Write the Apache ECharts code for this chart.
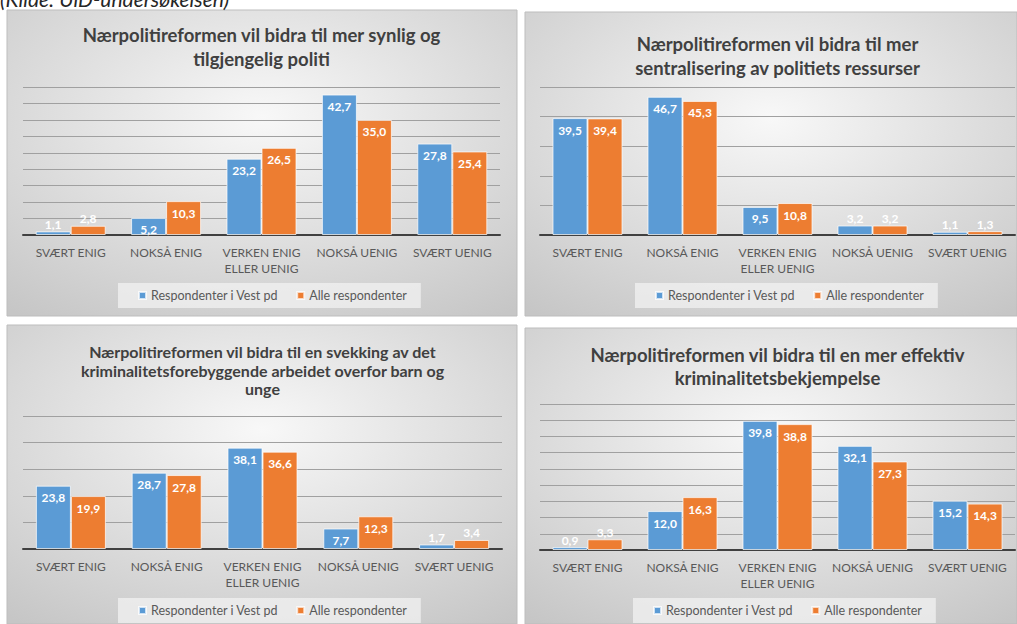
<!DOCTYPE html>
<html>
<head>
<meta charset="utf-8">
<script src="https://cdn.jsdelivr.net/npm/echarts@6.0.0/dist/echarts.min.js"></script>
<style>
html, body { margin: 0; padding: 0; background: #fff; }
#chart { width: 1017px; height: 624px; }
</style>
</head>
<body>
<div id="chart"></div>
<script>
// data
const caption = '(Kilde: UiD-undersøkelsen)'
const categories = ['SVÆRT ENIG', 'NOKSÅ ENIG', 'VERKEN ENIG\nELLER UENIG', 'NOKSÅ UENIG', 'SVÆRT UENIG']
const seriesNames = ['Respondenter i Vest pd', 'Alle respondenter']
const titles = [
  'Nærpolitireformen vil bidra til mer synlig og\ntilgjengelig politi',
  'Nærpolitireformen vil bidra til mer\nsentralisering av politiets ressurser',
  'Nærpolitireformen vil bidra til en svekking av det\nkriminalitetsforebyggende arbeidet overfor barn og\nunge',
  'Nærpolitireformen vil bidra til en mer effektiv\nkriminalitetsbekjempelse'
]
const vestSynlig = [1.1, 5.2, 23.2, 42.7, 27.8]
const alleSynlig = [2.8, 10.3, 26.5, 35.0, 25.4]
const vestSentral = [39.5, 46.7, 9.5, 3.2, 1.1]
const alleSentral = [39.4, 45.3, 10.8, 3.2, 1.3]
const vestSvekking = [23.8, 28.7, 38.1, 7.7, 1.7]
const alleSvekking = [19.9, 27.8, 36.6, 12.3, 3.4]
const vestEffektiv = [0.9, 12.0, 39.8, 32.1, 15.2]
const alleEffektiv = [3.3, 16.3, 38.8, 27.3, 14.3]
const axisMax = [45, 50, 50, 45]
const axisStep = [5, 10, 10, 5]

const panelData = [
  [vestSynlig, alleSynlig],
  [vestSentral, alleSentral],
  [vestSvekking, alleSvekking],
  [vestEffektiv, alleEffektiv]
]

// layout of each panel (px)
const panels = [
  { box: [7, 10, 510, 306], grid: [23, 87, 477, 148], titleY: 47, titleSize: 18.5, lineH: 24, legend: [118, 283] },
  { box: [525, 12, 492, 304], grid: [540, 87, 475, 148], titleY: 56, titleSize: 18.5, lineH: 24, legend: [635, 283] },
  { box: [7, 325, 510, 299], grid: [23, 416, 479, 133], titleY: 370, titleSize: 16, lineH: 18.5, legend: [118, 598] },
  { box: [525, 328, 492, 296], grid: [540, 404, 475, 146], titleY: 366, titleSize: 18.5, lineH: 23, legend: [633, 598] }
]

const colors = ['#5B9BD5', '#ED7D31']
const fontFamily = 'Lato, "Open Sans", sans-serif'

const chartInstance = echarts.init(document.getElementById('chart'), null, { renderer: 'svg' })

const fmt = (v) => v.toFixed(1).replace('.', ',')

const graphics = [
  {
    type: 'text',
    left: 0,
    top: -12,
    z: 10,
    style: { text: caption, font: 'italic 21px ' + fontFamily, fill: '#262626' }
  }
]
const grids = []
const xAxes = []
const yAxes = []
const series = []
const legends = []

panels.forEach((p, i) => {
  const [bx, by, bw, bh] = p.box
  graphics.push({
    type: 'rect',
    z: -10,
    silent: true,
    shape: { x: bx, y: by, width: bw, height: bh },
    style: {
      fill: new echarts.graphic.RadialGradient(0.5, 0.35, 0.8, [
        { offset: 0, color: '#f8f8f8' },
        { offset: 1, color: '#c6c6c6' }
      ]),
      stroke: '#bdbdbd',
      lineWidth: 1
    }
  })
  const [gx, gy, gw, gh] = p.grid
  graphics.push({
    type: 'text',
    z: 10,
    x: gx + gw / 2,
    y: p.titleY,
    style: {
      text: titles[i],
      font: 'bold ' + p.titleSize + 'px ' + fontFamily,
      fill: '#404040',
      align: 'center',
      verticalAlign: 'middle',
      lineHeight: p.lineH
    }
  })
  grids.push({ left: gx, top: gy, width: gw, height: gh, containLabel: false })
  xAxes.push({
    type: 'category',
    gridIndex: i,
    data: categories,
    axisTick: { show: false },
    axisLine: { lineStyle: { color: '#404040', width: 2 } },
    axisLabel: { interval: 0, color: '#595959', fontSize: 12, fontFamily, lineHeight: 16, margin: 9 }
  })
  yAxes.push({
    type: 'value',
    gridIndex: i,
    min: 0,
    max: axisMax[i],
    interval: axisStep[i],
    axisLabel: { show: false },
    axisLine: { show: false },
    axisTick: { show: false },
    splitLine: { lineStyle: { color: '#a0a0a0', width: 1 } }
  })
  panelData[i].forEach((values, s) => {
    series.push({
      type: 'bar',
      name: seriesNames[s],
      xAxisIndex: i,
      yAxisIndex: i,
      barWidth: 35,
      barGap: '0%',
      itemStyle: { color: colors[s], borderColor: 'rgba(255,255,255,0.7)', borderWidth: 1 },
      label: {
        show: true,
        position: 'insideTop',
        distance: 6,
        color: '#fff',
        fontWeight: 'bold',
        fontSize: 12,
        fontFamily,
        formatter: (params) => fmt(params.value)
      },
      // short bars get their label just above the bar
      data: values.map((v) => (v / axisMax[i] * gh < 14
        ? { value: v, label: { position: 'top', distance: 1 } }
        : v))
    })
  })
  legends.push({
    data: seriesNames,
    left: p.legend[0],
    top: p.legend[1],
    icon: 'rect',
    itemWidth: 7,
    itemHeight: 7,
    itemGap: 18,
    padding: [6, 14, 6, 20],
    backgroundColor: 'rgba(242,242,242,0.75)',
    selectedMode: false,
    textStyle: { color: '#595959', fontSize: 12.5, fontFamily }
  })
})

chartInstance.setOption({
  animation: false,
  color: colors,
  graphic: graphics,
  grid: grids,
  xAxis: xAxes,
  yAxis: yAxes,
  legend: legends,
  series
})
</script>
</body>
</html>
